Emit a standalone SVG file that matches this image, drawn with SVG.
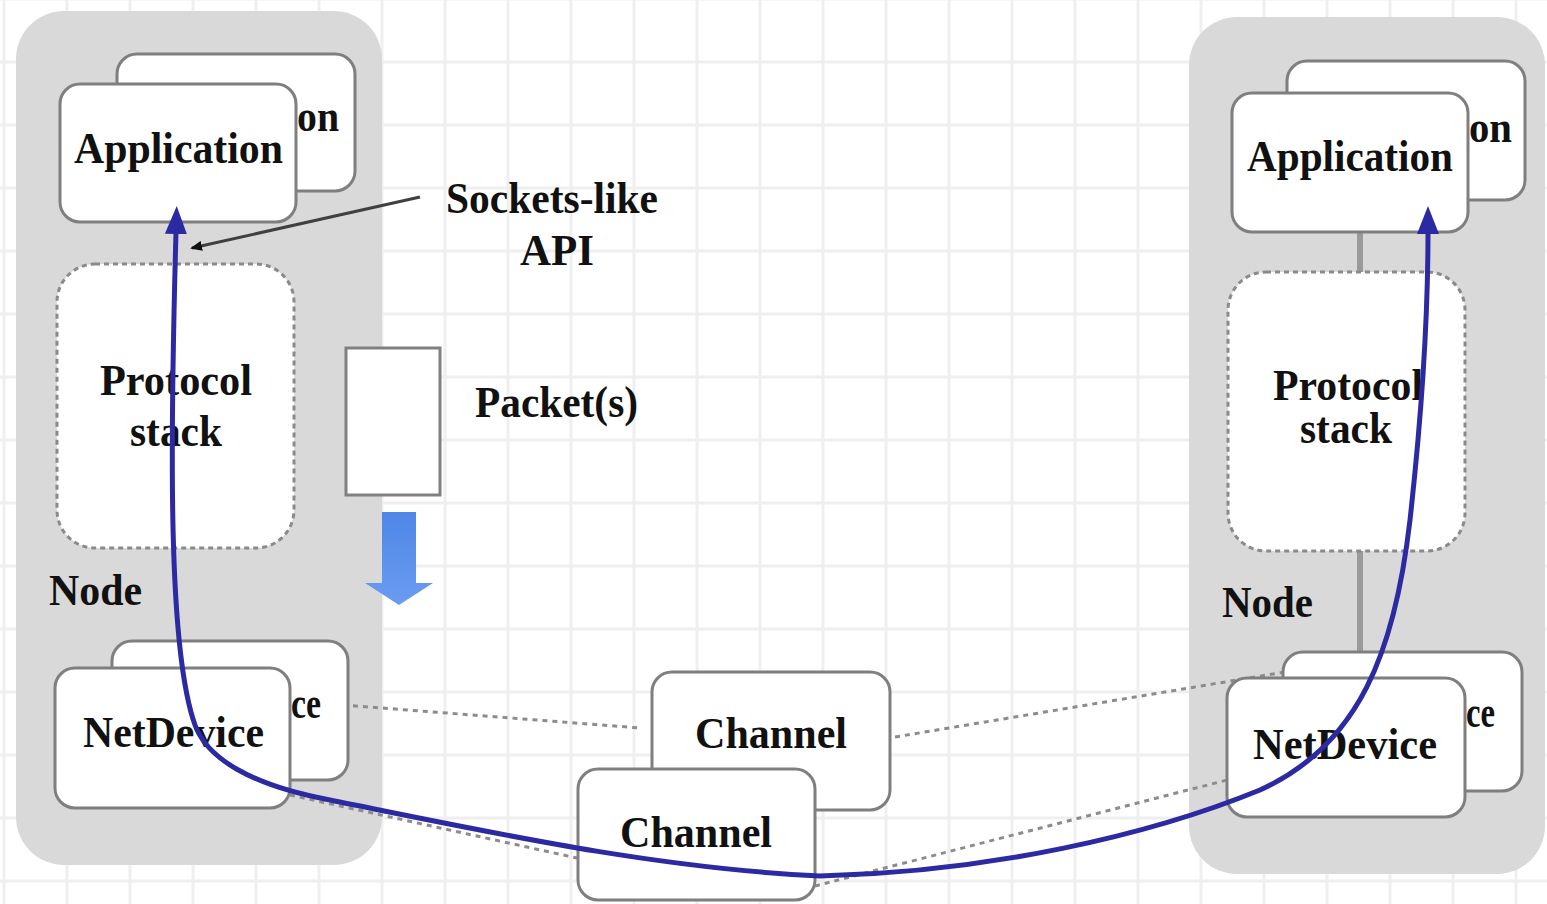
<svg xmlns="http://www.w3.org/2000/svg" width="1547" height="904" viewBox="0 0 1547 904">
<style>
.cont{fill:#d9d9d9;stroke:none}
.box{fill:#ffffff;stroke:#7f7f7f;stroke-width:3}
.dbox{fill:#ffffff;stroke:#8a8a8a;stroke-width:3;stroke-dasharray:5 4}
.t{font-family:"Liberation Serif","Times New Roman",serif;font-weight:bold;font-size:45px;fill:#111111}
.dash{fill:none;stroke:#8c8c8c;stroke-width:3;stroke-dasharray:5 5}
.gray{fill:none;stroke:#9a9a9a;stroke-width:6}
.api{fill:none;stroke:#404040;stroke-width:3}
.flow{fill:none;stroke:#2c2aa2;stroke-width:5}
</style>
<defs>
<pattern id="grid" patternUnits="userSpaceOnUse" x="2.5" y="-2.5" width="63" height="63">
<rect x="0" y="0" width="3" height="63" fill="#efefef"/>
<rect x="0" y="0" width="63" height="3" fill="#efefef"/>
</pattern>
<marker id="blueHead" markerUnits="userSpaceOnUse" viewBox="0 0 28 22" markerWidth="28" markerHeight="22" refX="2" refY="11" orient="auto-start-reverse">
<path d="M0,0 L28,11 L0,22 z" fill="#2c2aa2"/>
</marker>
<marker id="apiHead" markerUnits="userSpaceOnUse" viewBox="0 0 12 10" markerWidth="12" markerHeight="10" refX="10" refY="5" orient="auto">
<path d="M0,0 L12,5 L0,10 z" fill="#111111"/>
</marker>
<linearGradient id="blueArrow" x1="0" y1="0" x2="0" y2="1">
<stop offset="0" stop-color="#4f86e6"/>
<stop offset="1" stop-color="#6a9cf0"/>
</linearGradient>
</defs>

<rect x="0" y="0" width="1547" height="904" fill="#ffffff"/>
<rect x="0" y="0" width="1547" height="904" fill="url(#grid)"/>

<g id="node-left">
<rect class="cont" x="16" y="11" width="366" height="854" rx="48"/>
<text class="t" x="49" y="605" textLength="93" lengthAdjust="spacingAndGlyphs">Node</text>
</g>
<g id="node-right">
<rect class="cont" x="1189" y="17" width="356" height="857" rx="48"/>
<text class="t" x="1222" y="617" textLength="91" lengthAdjust="spacingAndGlyphs">Node</text>
</g>

<g id="connectors">
<line class="dash" x1="343" y1="705" x2="640" y2="728"/>
<line class="dash" x1="290" y1="795" x2="577" y2="858"/>
<line class="dash" x1="895" y1="737" x2="1285" y2="672"/>
<line class="dash" x1="815" y1="886" x2="1227" y2="780"/>
<line class="gray" x1="1360" y1="232" x2="1360" y2="272"/>
<line class="gray" x1="1360" y1="551" x2="1360" y2="652"/>
</g>

<g id="app-left-back">
<rect class="box" x="117" y="54" width="238" height="137" rx="20"/>
<text class="t" x="297" y="131" textLength="42" lengthAdjust="spacingAndGlyphs">on</text>
</g>
<g id="app-left">
<rect class="box" x="60" y="84" width="236" height="138" rx="20"/>
<text class="t" x="74" y="163" textLength="209" lengthAdjust="spacingAndGlyphs">Application</text>
</g>
<g id="stack-left">
<rect class="dbox" x="57" y="264" width="237" height="284" rx="38"/>
<text class="t" x="100" y="395" textLength="152" lengthAdjust="spacingAndGlyphs">Protocol</text>
<text class="t" x="130" y="446" textLength="92" lengthAdjust="spacingAndGlyphs">stack</text>
</g>
<g id="netdevice-left-back">
<rect class="box" x="112" y="641" width="236" height="139" rx="20"/>
<text class="t" x="291" y="718" textLength="30" lengthAdjust="spacingAndGlyphs">ce</text>
</g>
<g id="netdevice-left">
<rect class="box" x="55" y="668" width="235" height="140" rx="20"/>
<text class="t" x="83" y="747" textLength="181" lengthAdjust="spacingAndGlyphs">NetDevice</text>
</g>

<g id="packet">
<rect x="346" y="348" width="94" height="147" fill="#ffffff" stroke="#808080" stroke-width="3"/>
<text class="t" x="475" y="417" textLength="163" lengthAdjust="spacingAndGlyphs">Packet(s)</text>
<path d="M382,512 L416,512 L416,583 L433,583 L399,605 L365,583 L382,583 z" fill="url(#blueArrow)"/>
</g>

<g id="sockets-api">
<text class="t" x="446" y="213" textLength="212" lengthAdjust="spacingAndGlyphs">Sockets-like</text>
<text class="t" x="520" y="265" textLength="74" lengthAdjust="spacingAndGlyphs">API</text>
</g>

<g id="channel-back">
<rect class="box" x="652" y="672" width="238" height="138" rx="20"/>
<text class="t" x="695" y="748" textLength="152" lengthAdjust="spacingAndGlyphs">Channel</text>
</g>
<g id="channel-front">
<rect class="box" x="578" y="769" width="237" height="131" rx="20"/>
<text class="t" x="620" y="847" textLength="152" lengthAdjust="spacingAndGlyphs">Channel</text>
</g>

<g id="app-right-back">
<rect class="box" x="1287" y="61" width="238" height="139" rx="20"/>
<text class="t" x="1469" y="142" textLength="43" lengthAdjust="spacingAndGlyphs">on</text>
</g>
<g id="app-right">
<rect class="box" x="1232" y="93" width="236" height="139" rx="20"/>
<text class="t" x="1247" y="171" textLength="206" lengthAdjust="spacingAndGlyphs">Application</text>
</g>
<g id="stack-right">
<rect class="dbox" x="1228" y="272" width="237" height="279" rx="38"/>
<text class="t" x="1273" y="400" font-size="36" textLength="150" lengthAdjust="spacingAndGlyphs">Protocol</text>
<text class="t" x="1300" y="443" font-size="36" textLength="92" lengthAdjust="spacingAndGlyphs">stack</text>
</g>
<g id="netdevice-right-back">
<rect class="box" x="1283" y="652" width="239" height="139" rx="20"/>
<text class="t" x="1466" y="727" textLength="29" lengthAdjust="spacingAndGlyphs">ce</text>
</g>
<g id="netdevice-right">
<rect class="box" x="1227" y="678" width="238" height="139" rx="20"/>
<text class="t" x="1253" y="759" textLength="184" lengthAdjust="spacingAndGlyphs">NetDevice</text>
</g>

<g id="flow-connectors">
<line class="api" x1="420" y1="197" x2="192" y2="248" marker-end="url(#apiHead)"/>
<path class="flow" marker-start="url(#blueHead)" marker-end="url(#blueHead)" d="M176,232 C170,450 168,650 195,725 C207,758 250,785 330,800 C480,830 650,868 820,876 C990,872 1150,835 1260,790 C1360,745 1395,650 1410,520 C1420,430 1428,330 1428,232"/>
</g>
</svg>
